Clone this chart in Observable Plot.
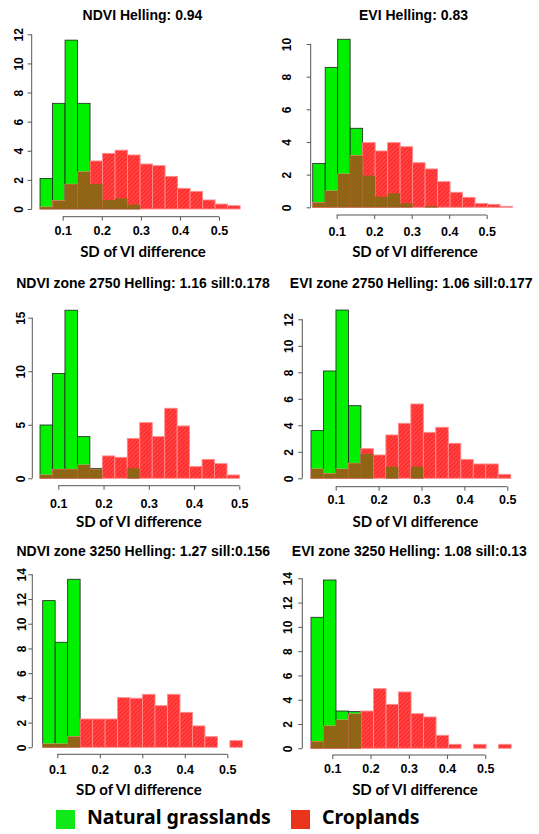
<!DOCTYPE html>
<html><head><meta charset="utf-8">
<script src="https://cdn.jsdelivr.net/npm/d3@7"></script>
<script src="https://cdn.jsdelivr.net/npm/@observablehq/plot@0.6"></script>
<style>
body{margin:0;background:#fff;}
#root{position:relative;width:539px;height:834px;overflow:hidden;background:#fff;}
#root svg{position:absolute;overflow:visible;max-width:none;}
.lg-box{position:absolute;width:19px;height:19px;}
.lg-txt{position:absolute;font-family:"Noto Sans",sans-serif;font-weight:bold;font-size:19.5px;line-height:1;color:#000;white-space:nowrap;}
</style></head><body><div id="root"></div>
<script>
// ---- data ----
const titles = [
  "NDVI Helling: 0.94",
  "EVI Helling: 0.83",
  "NDVI zone 2750 Helling: 1.16 sill:0.178",
  "EVI zone 2750 Helling: 1.06 sill:0.177",
  "NDVI zone 3250 Helling: 1.27 sill:0.156",
  "EVI zone 3250 Helling: 1.08 sill:0.13"
];
const xLabel = "SD of VI difference";
const xTicks = [0.1, 0.2, 0.3, 0.4, 0.5];
const xTickLabels = ["0.1", "0.2", "0.3", "0.4", "0.5"];
const yTicksNDVI = [0, 2, 4, 6, 8, 10, 12];
const yTicksEVI = [0, 2, 4, 6, 8, 10];
const yTicksNDVI2750 = [0, 5, 10, 15];
const yTicksEVI2750 = [0, 2, 4, 6, 8, 10, 12];
const yTicksNDVI3250 = [0, 2, 4, 6, 8, 10, 12, 14];
const yTicksEVI3250 = [0, 2, 4, 6, 8, 10, 12, 14];
const binStart = [0.042, 0.036, 0.0596, 0.0424, 0.0656, 0.0443];
const binWidth = [0.032, 0.0333, 0.02755, 0.0291, 0.02937, 0.0327];

const grassNDVI = [2.1, 7.26, 11.6, 7.26, 1.72, 0.62, 0.73, 0.3, 0, 0, 0, 0, 0, 0, 0, 0];
const cropNDVI  = [0.13, 0.57, 1.7, 2.55, 3.3, 3.82, 4.04, 3.71, 3.09, 2.98, 2.24, 1.42, 1.21, 0.62, 0.34, 0.23];
const grassEVI  = [2.69, 8.57, 10.29, 4.84, 1.94, 0.65, 0.86, 0.24, 0, 0.08, 0, 0, 0, 0, 0, 0];
const cropEVI   = [0.29, 1.0, 2.04, 3.16, 3.96, 3.45, 3.96, 3.71, 2.73, 2.35, 1.57, 0.92, 0.61, 0.24, 0.18, 0.06];
const grassNDVI2750 = [4.98, 9.8, 15.7, 3.89, 0.93, 0, 0, 0.93, 0, 0, 0, 0, 0, 0, 0, 0];
const cropNDVI2750  = [0.31, 0.84, 0.84, 1.24, 0.84, 2.09, 1.96, 3.73, 5.2, 3.89, 6.54, 4.89, 1.09, 1.77, 1.37, 0.31];
const grassEVI2750  = [3.6, 8.1, 12.7, 5.48, 1.84, 0, 0.88, 0, 0.88, 0, 0, 0, 0, 0, 0, 0];
const cropEVI2750   = [0.7, 0.35, 0.7, 1.13, 2.24, 1.76, 3.27, 4.15, 5.61, 3.47, 3.85, 2.64, 1.43, 1.08, 1.08, 0.3];
const grassNDVI3250 = [11.87, 8.5, 13.6, 0, 0, 0, 0, 0, 0, 0, 0, 0, 0, 0, 0, 0];
const cropNDVI3250  = [0.27, 0.27, 0.86, 2.29, 2.29, 2.29, 4.02, 3.97, 4.29, 3.37, 4.29, 2.83, 1.73, 0.86, 0, 0.54];
const grassEVI3250  = [10.79, 13.86, 3.07, 3.02, 0, 0, 0, 0, 0, 0, 0, 0, 0, 0, 0, 0];
const cropEVI3250   = [0.55, 1.84, 2.33, 2.83, 3.07, 4.91, 3.62, 4.64, 2.85, 2.58, 1.07, 0.33, 0, 0.33, 0, 0.33];

const legendLabels = ["Natural grasslands", "Croplands"];

// ---- layout & style ----
const GREEN = "#00f000", AXIS = "#555";
const layout = [
  {left: 0,   top: 0,   h: 260, ml: 31.7, fb: 216.7, xr: [62.7, 219],   yr: [209, 34.3],   tcx: 142,   tby: 19.3, lcx: 142.5, lby: 256,   xg: 9.3,  yg: 9.7},
  {left: 270, top: 0,   h: 260, ml: 40.7, fb: 215,   xr: [66.7, 216.7], yr: [207.3, 44],   tcx: 143,   tby: 19.3, lcx: 144.5, lby: 256,   xg: 11.7, yg: 20},
  {left: 0,   top: 260, h: 275, ml: 32.3, fb: 225.7, xr: [58.3, 239.3], yr: [218.3, 57.7], tcx: 142.5, tby: 27.3, lcx: 138.3, lby: 266.7, xg: 13.3, yg: 8.3},
  {left: 270, top: 260, h: 275, ml: 32.3, fb: 226.7, xr: [65.7, 237.3], yr: [218.3, 59.3], tcx: 140.7, tby: 27.3, lcx: 144.8, lby: 266.7, xg: 8.3,  yg: 9.6},
  {left: 0,   top: 535, h: 260, ml: 32.3, fb: 219.3, xr: [57.3, 227.3], yr: [212.3, 39.3], tcx: 142.8, tby: 20,   lcx: 138.3, lby: 259.3, xg: 10.7, yg: 7.3},
  {left: 270, top: 535, h: 260, ml: 32.3, fb: 220,   xr: [62.3, 215.3], yr: [213.3, 43.3], tcx: 138.8, tby: 20,   lcx: 144.5, lby: 259.3, xg: 8.3,  yg: 10.6}
];

const panels = [
  {grass: grassNDVI, crop: cropNDVI, yTicks: yTicksNDVI},
  {grass: grassEVI, crop: cropEVI, yTicks: yTicksEVI},
  {grass: grassNDVI2750, crop: cropNDVI2750, yTicks: yTicksNDVI2750},
  {grass: grassEVI2750, crop: cropEVI2750, yTicks: yTicksEVI2750},
  {grass: grassNDVI3250, crop: cropNDVI3250, yTicks: yTicksNDVI3250},
  {grass: grassEVI3250, crop: cropEVI3250, yTicks: yTicksEVI3250}
];

function domainLines(xt, yt) {
  return (index, scales, values, dims) => {
    const g = d3.create("svg:g").attr("stroke", AXIS).attr("stroke-width", 1).attr("fill", "none");
    const yb = dims.height - dims.marginBottom;
    g.append("line").attr("x1", scales.x(xt[0])).attr("x2", scales.x(xt[xt.length - 1])).attr("y1", yb).attr("y2", yb);
    g.append("line").attr("x1", dims.marginLeft).attr("x2", dims.marginLeft)
      .attr("y1", scales.y(yt[0])).attr("y2", scales.y(yt[yt.length - 1]));
    return g.node();
  };
}

const root = document.getElementById("root");
const TITLE_FONT = "'Liberation Sans', Arial, Helvetica, sans-serif";

panels.forEach((p, i) => {
  const L = layout[i];
  const rows = p.grass.map((g, k) => ({
    x1: binStart[i] + k * binWidth[i],
    x2: binStart[i] + (k + 1) * binWidth[i],
    g, r: p.crop[k], o: Math.min(g, p.crop[k])
  }));
  const W = 269;
  const svg = Plot.plot({
    width: W, height: L.h,
    marginLeft: L.ml, marginBottom: L.h - L.fb, marginTop: 10, marginRight: 10,
    style: {fontFamily: TITLE_FONT, fontWeight: "bold", background: "transparent", overflow: "visible"},
    x: {domain: [0.1, 0.5], range: L.xr, label: null},
    y: {domain: [0, p.yTicks[p.yTicks.length - 1]], range: L.yr, label: null},
    marks: [
      Plot.rect(rows.filter(d => d.g > 0), {x1: "x1", x2: "x2", y1: 0, y2: "g", fill: GREEN, stroke: "#222", strokeWidth: 0.8}),
      Plot.rect(rows.filter(d => d.r > 0), {x1: "x1", x2: "x2", y1: 0, y2: "r", fill: `url(#hatchR${i})`, stroke: "#ff8c8c", strokeWidth: 0.9}),
      Plot.rect(rows.filter(d => d.o > 0), {x1: "x1", x2: "x2", y1: 0, y2: "o", fill: `url(#hatchO${i})`}),
      domainLines(xTicks, p.yTicks),
      Plot.axisX({ticks: xTicks, tickFormat: (d, k) => xTickLabels[k], tickSize: 4, tickPadding: L.xg - 4, label: null, stroke: AXIS, fill: "#000", fontSize: 12.5, fontWeight: "bold"}),
      Plot.axisY({ticks: p.yTicks, tickFormat: d => String(d), tickSize: 4, tickPadding: L.yg - 4, tickRotate: -90, label: null, stroke: AXIS, fill: "#000", fontSize: 12, fontWeight: "bold"}),
      Plot.text([titles[i]], {text: d => d, frameAnchor: "top-left", dx: L.tcx - L.ml, dy: L.tby - 10, textAnchor: "middle", lineAnchor: "bottom", fontSize: 14, fontWeight: "bold", fill: "#000"}),
      Plot.text([xLabel], {text: d => d, frameAnchor: "bottom-left", dx: L.lcx - L.ml, dy: L.lby - L.fb, textAnchor: "middle", lineAnchor: "bottom", fontSize: 15, fontWeight: "bold", fontFamily: "Lato, sans-serif", fill: "#000"})
    ]
  });
  d3.select(svg).insert("defs", ":first-child").html(
    `<pattern id="hatchR${i}" patternUnits="userSpaceOnUse" width="3" height="3" patternTransform="rotate(45)">
       <rect width="3" height="3" fill="#ff4848"/><rect width="1.3" height="3" fill="#ff2525"/></pattern>
     <pattern id="hatchO${i}" patternUnits="userSpaceOnUse" width="3" height="3" patternTransform="rotate(45)">
       <rect width="3" height="3" fill="#846e12"/><rect width="1.2" height="3" fill="#a4561a"/></pattern>`
  );
  svg.style.left = L.left + "px";
  svg.style.top = L.top + "px";
  root.appendChild(svg);
});

// ---- legend ----
const legendColors = ["#10e818", "#e8341a"];
const legendBoxX = [56, 291];
const legendTextX = [87, 322];
legendLabels.forEach((lab, k) => {
  const b = document.createElement("div");
  b.className = "lg-box";
  b.style.left = legendBoxX[k] + "px"; b.style.top = "810px"; b.style.background = legendColors[k];
  root.appendChild(b);
  const t = document.createElement("div");
  t.className = "lg-txt";
  t.style.left = legendTextX[k] + "px"; t.style.top = "807px";
  t.textContent = lab;
  root.appendChild(t);
});
</script></body></html>
